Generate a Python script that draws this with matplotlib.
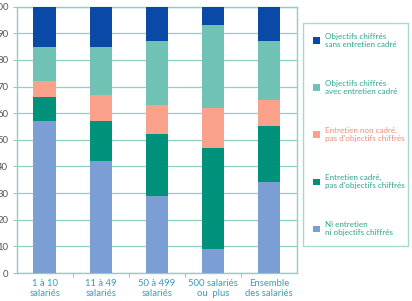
import matplotlib.pyplot as plt
from matplotlib.patches import Patch

plt.rcParams["font.family"] = ["Lato", "DejaVu Sans"]

categories = ["1 à 10\nsalariés", "11 à 49\nsalariés", "50 à 499\nsalariés",
              "500 salariés\nou  plus", "Ensemble\ndes salariés"]
ni_entretien = [57, 42, 29, 9, 34]
cadre_sans_obj = [9, 15, 23, 38, 21]
non_cadre_sans_obj = [6, 10, 11, 15, 10]
obj_avec_cadre = [13, 18, 24, 31, 22]
obj_sans_cadre = [15, 15, 13, 7, 13]

series = [
    (ni_entretien, "#7b9fd4", "Ni entretien\nni objectifs chiffrés"),
    (cadre_sans_obj, "#00917b", "Entretien cadré,\npas d'objectifs chiffrés"),
    (non_cadre_sans_obj, "#f9a18b", "Entretien non cadré,\npas d'objectifs chiffrés"),
    (obj_avec_cadre, "#70c2b5", "Objectifs chiffrés\navec entretien cadré"),
    (obj_sans_cadre, "#0a49a6", "Objectifs chiffrés\nsans entretien cadré"),
]

line_col = "#8fd0c4"
text_col = "#2aa58f"

fig = plt.figure(figsize=(4.12, 3.01), dpi=100)
ax = fig.add_axes([0.0405, 0.093, 0.68, 0.885])

x = list(range(len(categories)))
bottom = [0] * len(categories)
for vals, col, lab in series:
    ax.bar(x, vals, 0.4, bottom=bottom, color=col, zorder=3)
    bottom = [b + v for b, v in zip(bottom, vals)]

ax.set_xlim(-0.5, len(categories) - 0.5)
ax.set_ylim(0, 100)
ax.set_yticks(range(0, 101, 10))
ax.yaxis.grid(True, color=line_col, linewidth=0.9, zorder=0)
ax.set_xticks([i + 0.5 for i in range(len(categories) - 1)])
ax.set_xticklabels([])
ax.set_xticks(x, minor=True)
ax.set_xticklabels(categories, minor=True, fontsize=6.8, color="#3a9db5", linespacing=1.15)
ax.tick_params(axis="x", which="minor", length=0, pad=4)
ax.tick_params(axis="x", which="major", length=3, color=line_col)
ax.tick_params(axis="y", length=3, color=line_col, labelsize=6.8, labelcolor="#555555", pad=3)
for s in ax.spines.values():
    s.set_color(line_col)
    s.set_linewidth(1.0)

handles = [Patch(facecolor=col, label=lab) for vals, col, lab in series[::-1]]
leg = fig.legend(handles=handles, loc="upper left", bbox_to_anchor=(0.735, 0.0, 0.255, 0.924),
                 mode="expand", fontsize=5.8, labelspacing=3.95, handlelength=0.9, handleheight=0.9,
                 handletextpad=0.6, borderpad=1.25, borderaxespad=0, fancybox=False, frameon=True,
                 labelcolor=text_col)
leg.get_frame().set_edgecolor(line_col)
leg.get_frame().set_linewidth(1.0)
for t, (vals, col, lab) in zip(leg.get_texts(), series[::-1]):
    if col == "#f9a18b":
        t.set_color("#f08c78")

fig.savefig("out.png", dpi=100)
